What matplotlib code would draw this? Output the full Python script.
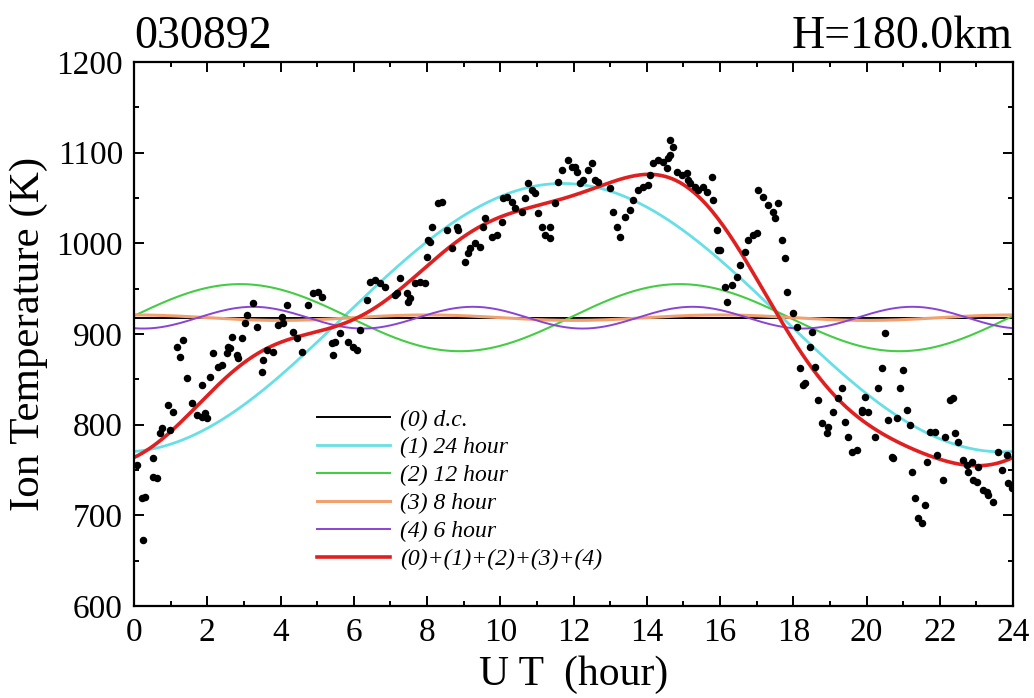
import numpy as np
import matplotlib
matplotlib.use("Agg")
import matplotlib.pyplot as plt
from matplotlib.ticker import MultipleLocator

plt.rcParams['font.family'] = ['Liberation Serif', 'DejaVu Serif']
plt.rcParams['mathtext.fontset'] = 'stix'

obs_hour = [
    0.25, 0.30, 0.22, 0.52, 0.63, 0.08, 0.52, 0.76, 0.71, 0.98,
    0.93, 1.06, 1.58, 1.72, 1.86, 1.99, 1.94, 1.45, 1.86, 2.07,
    2.29, 2.40, 1.26, 1.17, 1.34, 2.16, 2.54, 2.57, 2.62, 2.68,
    2.95, 2.81, 2.84, 3.03, 3.36, 3.25, 3.08, 3.63, 3.79, 3.52,
    3.49, 3.93, 4.04,
    4.18, 4.75, 4.89, 5.02, 5.13, 4.07, 4.34, 4.45, 4.59, 5.62,
    5.41, 5.49, 5.43, 5.84, 5.98, 6.09, 6.17, 6.36, 6.44, 6.58,
    6.72, 6.85, 7.13, 7.18, 7.26, 7.45, 7.53, 7.48, 7.67, 7.81,
    8.00, 8.03,
    7.94, 8.08, 8.14, 8.30, 8.41, 8.55, 8.82, 8.85, 8.68, 9.04,
    9.12, 9.17, 9.31, 9.45, 9.53, 9.58, 9.77, 9.91, 10.05, 10.07,
    10.18, 10.32, 10.40, 10.59, 10.67, 10.76, 10.87, 10.95, 11.03, 11.14,
    11.36, 11.22, 11.36, 11.49, 11.58, 11.68, 11.85, 11.96,
    12.04, 12.09, 12.26, 12.39, 12.50, 12.59, 12.67, 12.18, 13.00, 13.08,
    13.19, 13.27, 13.40, 13.54, 13.62, 13.76, 13.90, 14.03, 14.09, 14.17,
    14.31, 14.44, 14.58, 14.63, 14.55, 14.63, 14.71, 14.82, 14.96, 15.10,
    15.12, 15.32, 15.40, 15.18, 15.53, 15.64, 15.78, 15.81, 15.92, 15.94,
    16.00, 16.19, 16.13, 16.32, 16.46, 16.55, 16.68, 16.76, 16.90, 17.00,
    17.04, 17.17, 17.31, 17.44, 17.50, 17.58, 17.69, 17.77, 17.83, 17.99,
    18.10, 18.51, 18.45, 18.18, 18.26, 18.32, 18.59, 18.67, 18.78, 18.95,
    18.92, 19.08, 19.33, 19.22, 19.41, 19.49, 19.60, 19.74, 19.87,
    20.50, 20.42, 20.99, 20.31, 20.91, 19.96, 19.87, 20.04, 20.23, 20.58,
    20.83, 21.10, 21.18, 20.69, 20.72, 21.24, 21.32, 21.59, 21.40, 21.51,
    21.65, 21.73, 21.87, 21.92, 22.09, 22.14, 22.28, 22.36, 22.41, 22.50,
    22.63, 22.74, 22.88, 23.04, 22.77, 22.90, 23.01, 23.18, 23.29, 23.31,
    23.45, 23.59, 23.83, 23.70, 23.86, 23.97,
]
obs_temp = [
    673, 720, 719, 742, 741, 755, 763, 796, 791, 794,
    822, 814, 824, 811, 808, 807, 813, 851, 844, 853,
    864, 866, 875, 886, 893, 879, 879, 886, 885, 897,
    896, 877, 874, 912, 908, 934, 921, 882, 880, 871,
    858, 910, 919,
    932, 932, 945, 946, 941, 912, 902, 896, 880, 901,
    890, 891, 877, 891, 886, 882, 904, 937, 957, 960,
    956, 952, 943, 945, 962, 945, 940, 935, 956, 957,
    985, 1004,
    956, 1001, 1018, 1044, 1046, 1015, 1018, 1015, 995, 979,
    989, 995, 1000, 996, 1018, 1028, 1007, 1009, 1024, 1050,
    1051, 1046, 1039, 1035, 1050, 1067, 1059, 1055, 1033, 1018,
    1018, 1009, 1006, 1044, 1068, 1081, 1092, 1084,
    1084, 1079, 1070, 1081, 1089, 1070, 1068, 1067, 1061, 1035,
    1018, 1007, 1029, 1037, 1048, 1059, 1062, 1064, 1075, 1089,
    1092, 1090, 1094, 1097, 1083, 1114, 1106, 1079, 1075, 1078,
    1070, 1062, 1059, 1067, 1062, 1057, 1073, 1048, 1015, 993,
    993, 935, 952, 954, 963, 976, 990, 1004, 1009, 1011,
    1059, 1051, 1042, 1035, 1028, 1044, 1004, 984, 946, 923,
    908, 902, 886, 862, 844, 846, 864, 827, 802, 797,
    791, 814, 840, 829, 803, 786, 770, 772, 816,
    901, 862, 860, 840, 840, 831, 814, 814, 786, 805,
    807, 816, 800, 764, 763, 748, 719, 711, 697, 692,
    759, 792, 792, 767, 739, 786, 827, 829, 791, 781,
    761, 756, 759, 753, 748, 739, 737, 728, 726, 722,
    715, 770, 767, 750, 736, 730,
]

# harmonic fit: d.c. level and (period, amplitude, peak hour)
dc_level = 918
periods = [24, 12, 8, 6]
amplitudes = [148, 37, 3, 12]
peak_hours = [11.7, 2.9, 0.0, 3.25]

labels = ['(0) d.c.', '(1) 24 hour', '(2) 12 hour', '(3) 8 hour', '(4) 6 hour',
          '(0)+(1)+(2)+(3)+(4)']
colors = ['black', '#66e0e6', '#44cc44', '#f2a070', '#8a44d4', '#e02020']
widths = [1.4, 2.0, 1.5, 2.2, 1.4, 2.6]

t = np.linspace(0, 24, 481)
comps = [amp * np.cos(2 * np.pi * (t - ph) / per)
         for per, amp, ph in zip(periods, amplitudes, peak_hours)]
curves = [np.full_like(t, dc_level)] + [dc_level + c for c in comps]
curves.append(dc_level + np.sum(comps, axis=0))

fig = plt.figure(figsize=(10.34, 6.98), dpi=100)
ax = fig.add_axes([0.1296, 0.1318, 0.8501, 0.7794])

for y, lab, col, lw in zip(curves, labels, colors, widths):
    ax.plot(t, y, color=col, lw=lw, label=lab, zorder=2)
ax.plot(obs_hour, obs_temp, 'o', color='black', ms=4.4, zorder=3)

ax.set_xlim(0, 24)
ax.set_ylim(600, 1200)
ax.xaxis.set_major_locator(MultipleLocator(2))
ax.xaxis.set_minor_locator(MultipleLocator(1))
ax.yaxis.set_major_locator(MultipleLocator(100))
ax.yaxis.set_minor_locator(MultipleLocator(50))
ax.tick_params(which='both', direction='in', top=True, right=True, width=1.4)
ax.tick_params(which='major', length=7, labelsize=24, pad=8)
ax.tick_params(which='minor', length=3.5)
for sp in ax.spines.values():
    sp.set_linewidth(1.6)

ax.set_xlabel('U T  (hour)', fontsize=30, labelpad=6)
ax.set_ylabel('Ion Temperature (K)', fontsize=31, labelpad=6)
ax.set_title('030892', loc='left', fontsize=33, pad=10)
ax.set_title('H=180.0km', loc='right', fontsize=33, pad=10)

leg = ax.legend(loc='upper left', bbox_to_anchor=(0.208, 0.362), frameon=False,
                prop={'family': 'Liberation Serif', 'style': 'italic', 'size': 17},
                handlelength=3.1, handletextpad=0.42, labelspacing=0.27,
                borderpad=0, borderaxespad=0)

fig.savefig('out.png', dpi=100)
